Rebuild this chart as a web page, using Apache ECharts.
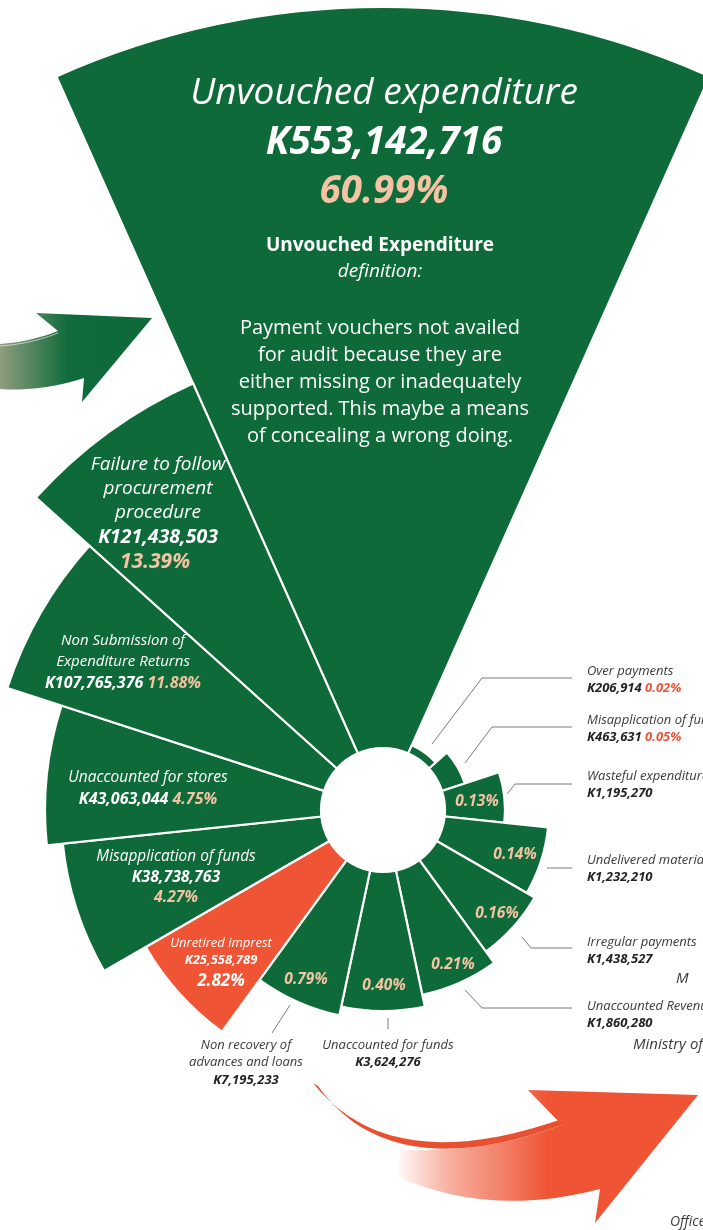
<!DOCTYPE html>
<html>
<head>
<meta charset="utf-8">
<script src="https://cdn.jsdelivr.net/npm/echarts@6/dist/echarts.min.js"></script>
<style>
  html, body { margin: 0; padding: 0; background: #fff; }
  #main { width: 703px; height: 1230px; }
</style>
</head>
<body>
<div id="main"></div>
<script>
// Categories clockwise from the top sector
var categories = [
  'Unvouched expenditure',
  'Over payments',
  'Misapplication of funds',
  'Wasteful expenditure',
  'Undelivered materials',
  'Irregular payments',
  'Unaccounted Revenue',
  'Unaccounted for funds',
  'Non recovery of\nadvances and loans',
  'Unretired imprest',
  'Misapplication of funds',
  'Unaccounted for stores',
  'Non Submission of\nExpenditure Returns',
  'Failure to follow\nprocurement\nprocedure'
];
var amounts = [553142716, 206914, 463631, 1195270, 1232210, 1438527, 1860280,
  3624276, 7195233, 25558789, 38738763, 43063044, 107765376, 121438503];
var percents = [60.99, 0.02, 0.05, 0.13, 0.14, 0.16, 0.21, 0.40, 0.79, 2.82, 4.27, 4.75, 11.88, 13.39];
// angular slots taken by each sector (15 slots of 24deg)
var slotWidths = [2, 1, 1, 1, 1, 1, 1, 1, 1, 1, 1, 1, 1, 1];
// sector length as drawn in the infographic
var barLength = [803, 71, 86, 122, 166, 175, 189, 201, 210, 274, 322, 338, 395, 467];

var definition = [
  'Payment vouchers not availed',
  'for audit because they are',
  'either missing or inadequately',
  'supported. This maybe a means',
  'of concealing a wrong doing.'
];

var GREEN = '#0e6a39';
var ORANGE = '#ef5435';
var PEACH = '#f4c3a3';
var HOLE = 62;
var FONT = '"Open Sans", "Noto Sans", sans-serif';

var chartDom = document.getElementById('main');
var myChart = echarts.init(chartDom);

var seriesData = [];
var acc = 0;
categories.forEach(function (c, i) {
  seriesData.push({ name: c, value: [acc, acc + slotWidths[i], barLength[i], i] });
  acc += slotWidths[i];
});

function money(v) { return 'K' + v.toLocaleString('en-US'); }
function pct(v) { return v.toFixed(2) + '%'; }

function txt(x, y, s, o) {
  o = o || {};
  var al = o.align || 'center';
  return {
    type: 'text', x: x, y: y, silent: true, z: 10,
    style: {
      text: s, fill: o.fill || '#fff',
      align: al, textAlign: al, verticalAlign: 'middle', textVerticalAlign: 'middle',
      fontFamily: FONT, fontSize: o.size || 15,
      fontStyle: o.italic === false ? 'normal' : 'italic',
      fontWeight: o.bold ? 'bold' : 'normal',
      rich: o.rich
    }
  };
}
function richStyle(color, size, bold) {
  return { fill: color, color: color, fontFamily: FONT, fontSize: size, fontStyle: 'italic', fontWeight: bold ? 'bold' : 'normal' };
}
function lines(x, y, lh, s, o) {
  return s.split('\n').map(function (t, k) { return txt(x, y + k * lh, t, o); });
}
function quad(p0, c, p2, n) {
  var pts = [];
  for (var k = 0; k <= n; k++) {
    var t = k / n, u = 1 - t;
    pts.push([u * u * p0[0] + 2 * u * t * c[0] + t * t * p2[0],
              u * u * p0[1] + 2 * u * t * c[1] + t * t * p2[1]]);
  }
  return pts;
}

var g = [];

// top sector text
g.push(txt(384, 93, categories[0], { size: 37 }));
g.push(txt(384, 143, money(amounts[0]), { size: 38.5, bold: true }));
g.push(txt(384, 192, pct(percents[0]), { size: 38.5, bold: true, fill: PEACH }));
g.push(txt(380, 246, 'Unvouched Expenditure', { size: 19, bold: true, italic: false }));
g.push(txt(380, 272, 'definition:', { size: 19 }));
definition.forEach(function (l, k) { g.push(txt(380, 328 + k * 27, l, { size: 20, italic: false })); });

// Failure to follow procurement procedure
g = g.concat(lines(158, 465, 24, categories[13], { size: 19 }));
g.push(txt(158, 537, money(amounts[13]), { size: 19.5, bold: true }));
g.push(txt(155, 562, pct(percents[13]), { size: 21, bold: true, fill: PEACH }));

// Non Submission
g = g.concat(lines(123, 641, 21, categories[12], { size: 15 }));
g.push(txt(123, 683, '{a|' + money(amounts[12]) + '} {p|' + pct(percents[12]) + '}', {
  size: 16, bold: true, rich: { a: richStyle('#fff', 16, true), p: richStyle(PEACH, 16, true) }
}));

// Unaccounted for stores
g.push(txt(148, 778, categories[11], { size: 15.5 }));
g.push(txt(148, 799, '{a|' + money(amounts[11]) + '} {p|' + pct(percents[11]) + '}', {
  size: 16, bold: true, rich: { a: richStyle('#fff', 16, true), p: richStyle(PEACH, 16, true) }
}));

// Misapplication of funds (large)
g.push(txt(176, 857, categories[10], { size: 15.4 }));
g.push(txt(176, 877, money(amounts[10]), { size: 15.8, bold: true }));
g.push(txt(176, 897, pct(percents[10]), { size: 15.8, bold: true, fill: PEACH }));

// Unretired imprest
g.push(txt(221, 943, categories[9], { size: 13 }));
g.push(txt(221, 960, money(amounts[9]), { size: 13, bold: true }));
g.push(txt(221, 981, pct(percents[9]), { size: 17, bold: true }));

// percent labels inside small sectors
var inPct = { 3: [477, 802], 4: [515, 855], 5: [497, 914], 6: [453, 965], 7: [384, 986], 8: [306, 980] };
Object.keys(inPct).forEach(function (k) {
  g.push(txt(inPct[k][0], inPct[k][1], pct(percents[k]), { size: 15.5, bold: true, fill: PEACH }));
});

// outside labels on the right
var outY = { 1: 671, 2: 720, 3: 776, 4: 860, 5: 942, 6: 1006 };
Object.keys(outY).forEach(function (k) {
  var y = outY[k];
  g.push(txt(587, y, categories[k], { size: 13, fill: '#3a3a3a', align: 'left' }));
  if (k <= 2) {
    g.push(txt(587, y + 17, '{a|' + money(amounts[k]) + '} {p|' + pct(percents[k]) + '}', {
      size: 13, bold: true, align: 'left', fill: '#222',
      rich: { a: richStyle('#222', 13, true), p: richStyle('#f0533a', 13, true) }
    }));
  } else {
    g.push(txt(587, y + 17, money(amounts[k]), { size: 13, bold: true, fill: '#222', align: 'left' }));
  }
});

// bottom labels
g.push(txt(388, 1045, categories[7], { size: 13, fill: '#3a3a3a' }));
g.push(txt(388, 1062, money(amounts[7]), { size: 13, bold: true, fill: '#222' }));
g = g.concat(lines(246, 1045, 17, categories[8], { size: 13, fill: '#3a3a3a' }));
g.push(txt(246, 1080, money(amounts[8]), { size: 13, bold: true, fill: '#222' }));

// cut-off texts of neighbouring panels
g.push(txt(676, 979, 'M', { size: 15, fill: '#3a3a3a', align: 'left' }));
g.push(txt(633, 1045, 'Ministry of Finance', { size: 15, fill: '#3a3a3a', align: 'left' }));
g.push(txt(670, 1222, 'Office', { size: 14, fill: '#3a3a3a', align: 'left' }));

// leader lines
var leaders = [
  [[432, 744], [482, 678], [572, 678]],
  [[465, 763], [492, 727], [572, 727]],
  [[507, 794], [515, 784], [572, 784]],
  [[547, 868], [572, 868]],
  [[522, 937], [531, 948], [572, 948]],
  [[465, 990], [482, 1008], [572, 1008]],
  [[388, 1018], [388, 1029]],
  [[290, 1005], [272, 1033]]
];
leaders.forEach(function (p) {
  g.push({ type: 'polyline', silent: true, z: 5, shape: { points: p }, style: { stroke: '#7a7a7a', lineWidth: 1, fill: null } });
});

// green arrow (left)
var greenPts = quad([0, 344], [30, 342], [58, 331], 12)
  .concat([[36, 313], [152, 318], [82, 402], [84, 378]])
  .concat(quad([84, 378], [40, 392], [0, 389], 12));
g.push({
  type: 'polygon', silent: true, z: 1, shape: { points: greenPts },
  style: {
    fill: new echarts.graphic.LinearGradient(0, 0, 1, 0, [
      { offset: 0, color: '#8f9c7e' }, { offset: 0.45, color: '#0f6b3b' }, { offset: 1, color: '#0e6a39' }
    ])
  }
});
g.push({ type: 'polyline', silent: true, z: 2, shape: { points: quad([0, 346], [30, 344], [58, 333], 12) },
  style: { stroke: 'rgba(255,255,255,0.6)', lineWidth: 1, fill: null } });

// orange arrow (bottom)
var ribbon = quad([313, 1083], [390, 1180], [565, 1118], 20)
  .concat(quad([565, 1124], [390, 1188], [318, 1086], 20));
g.push({ type: 'polygon', silent: true, z: 1, shape: { points: ribbon }, style: { fill: '#e9502f' } });
var body = quad([400, 1150], [490, 1153], [562, 1125], 14)
  .concat([[528, 1090], [698, 1095], [595, 1223], [600, 1189]])
  .concat(quad([600, 1189], [490, 1218], [396, 1176], 14));
g.push({
  type: 'polygon', silent: true, z: 1, shape: { points: body },
  style: {
    fill: new echarts.graphic.LinearGradient(0, 0, 1, 0, [
      { offset: 0, color: 'rgba(239,84,53,0)' },
      { offset: 0.2, color: 'rgba(239,110,80,0.6)' },
      { offset: 0.5, color: '#ef5435' },
      { offset: 1, color: '#ef5435' }
    ])
  }
});

function renderSector(params, api) {
  var a = api.coord([HOLE, api.value(0)]);
  var b = api.coord([api.value(2), api.value(1)]);
  var cs = params.coordSys;
  return {
    type: 'sector',
    shape: { cx: cs.cx, cy: cs.cy, r0: a[2], r: b[2], startAngle: -a[3], endAngle: -b[3], clockwise: true },
    style: { fill: api.value(3) === 9 ? ORANGE : GREEN, stroke: '#fff', lineWidth: 2.2 }
  };
}

var option = {
  animation: false,
  backgroundColor: '#fff',
  polar: { center: [383, 810], radius: [0, 803] },
  angleAxis: { type: 'value', min: 0, max: 15, startAngle: 114, clockwise: true, show: false },
  radiusAxis: { type: 'value', min: 0, max: 803, show: false },
  series: [{
    type: 'custom',
    coordinateSystem: 'polar',
    renderItem: renderSector,
    data: seriesData,
    silent: true
  }],
  graphic: { elements: g }
};

option && myChart.setOption(option);
</script>
</body>
</html>
